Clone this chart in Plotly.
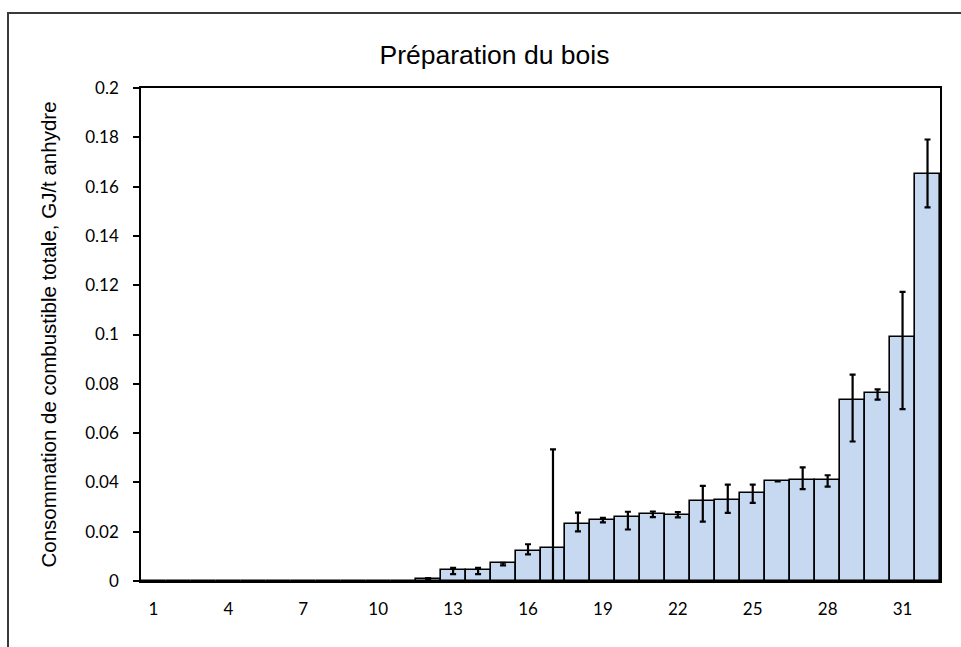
import plotly.graph_objects as go

# Wood preparation: total fuel consumption per mill (GJ per dry tonne)
mills = list(range(1, 33))
consumption = [0, 0, 0, 0, 0, 0, 0, 0, 0, 0, 0,
               0.0009, 0.0043, 0.0043, 0.0072, 0.0123, 0.0134, 0.0231,
               0.0247, 0.0258, 0.0271, 0.0268, 0.0325, 0.0329, 0.0356,
               0.0404, 0.0408, 0.0411, 0.0736, 0.0761, 0.0989, 0.1651]
err_plus = [0, 0, 0, 0, 0, 0, 0, 0, 0, 0, 0,
            0.0003, 0.0010, 0.0010, 0.0002, 0.0026, 0.0400, 0.0046,
            0.0009, 0.0023, 0.0011, 0.0012, 0.0061, 0.0062, 0.0035,
            0.0, 0.0053, 0.0018, 0.0101, 0.0016, 0.0184, 0.0140]
err_minus = [0, 0, 0, 0, 0, 0, 0, 0, 0, 0, 0,
             0.0003, 0.0015, 0.0015, 0.0009, 0.0015, 0.0400, 0.0030,
             0.0009, 0.0049, 0.0012, 0.0010, 0.0084, 0.0053, 0.0039,
             0.0, 0.0035, 0.0028, 0.0170, 0.0025, 0.0292, 0.0135]

x_tick_vals = [1, 4, 7, 10, 13, 16, 19, 22, 25, 28, 31]
y_tick_vals = [0, 0.02, 0.04, 0.06, 0.08, 0.1, 0.12, 0.14, 0.16, 0.18, 0.2]
y_tick_text = ["0", "0.02", "0.04", "0.06", "0.08", "0.1", "0.12", "0.14", "0.16", "0.18", "0.2"]

TICK_FONT = dict(family="Lato, Carlito, Calibri", size=17, color="#000000")
ARIAL = "Liberation Sans, Arial"

fig = go.Figure()
fig.add_trace(go.Bar(
    x=mills,
    y=consumption,
    width=1,
    marker=dict(color="#C6D9F1", line=dict(color="#000000", width=1.6)),
    error_y=dict(type="data", symmetric=False, array=err_plus, arrayminus=err_minus,
                 color="#000000", thickness=2.2, width=3),
    hoverinfo="x+y",
))

W, H = 961, 647
L, R, T, B = 141, 21, 88, 66
pw, ph = W - L - R, H - T - B

def px_x(v):
    return (v - L) / pw

def px_y(v):
    return (H - B - v) / ph

# chart-area frame
fig.add_shape(type="rect", xref="paper", yref="paper",
              x0=px_x(8), x1=px_x(980), y0=px_y(665), y1=px_y(13),
              line=dict(color="#3a3a3a", width=2), fillcolor="rgba(0,0,0,0)", layer="below")

# vertical axis title
fig.add_annotation(
    text="Consommation de combustible totale, GJ/t anhydre",
    xref="paper", yref="paper", x=px_x(48), y=0.5,
    xanchor="center", yanchor="middle", textangle=-90, showarrow=False,
    font=dict(family=ARIAL, size=20.5, color="#000000"),
)

fig.update_layout(
    width=W, height=H,
    margin=dict(l=L, r=R, t=T, b=B, pad=0),
    paper_bgcolor="white", plot_bgcolor="white",
    showlegend=False,
    bargap=0,
    title=dict(text="Préparation du bois", x=494.5 / W, xanchor="center",
               y=1 - 55 / H, yanchor="middle",
               font=dict(family=ARIAL, size=26.5, color="#000000")),
    font=TICK_FONT,
)

fig.update_xaxes(
    range=[0.5, 32.5],
    tickmode="array", tickvals=x_tick_vals, ticktext=[str(v) for v in x_tick_vals],
    ticks="", showgrid=False, zeroline=False,
    showline=True, linecolor="#000000", linewidth=2, mirror=True,
    tickfont=TICK_FONT,
    ticklabelstandoff=12,
)
fig.update_yaxes(
    range=[0, 0.2],
    tickmode="array", tickvals=y_tick_vals, ticktext=y_tick_text,
    ticks="outside", ticklen=6, tickwidth=1.5, tickcolor="#000000",
    showgrid=False, zeroline=False,
    showline=True, linecolor="#000000", linewidth=1.5, mirror=True,
    tickfont=TICK_FONT,
    ticklabelstandoff=11,
)

fig.write_html("out.html")
